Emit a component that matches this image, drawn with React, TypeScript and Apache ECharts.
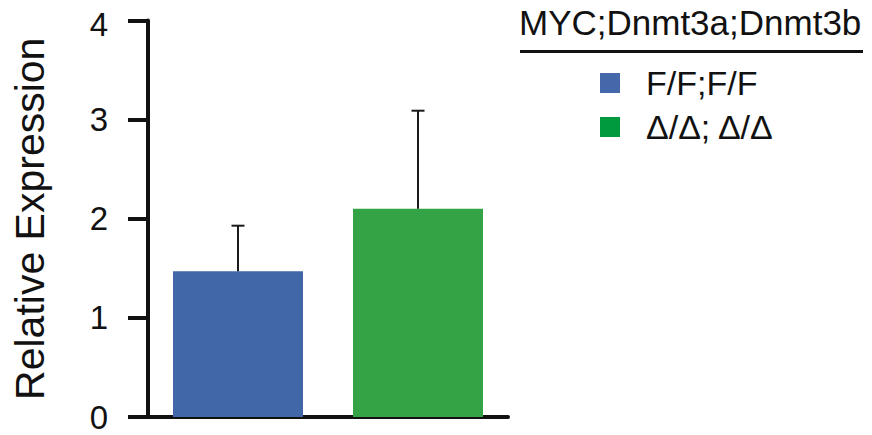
import React, { useEffect, useRef } from "react";
import * as echarts from "echarts";

const categories = ["F/F;F/F", "Δ/Δ; Δ/Δ"];
const seriesNames = ["F/F;F/F", "Δ/Δ; Δ/Δ"];
const means = [1.47, 2.1];
const errorTops = [1.93, 3.09];
const yTicks = [0, 1, 2, 3, 4];
const legendTitle = "MYC;Dnmt3a;Dnmt3b";
const yAxisTitle = "Relative Expression";

const barColors = ["#4267A8", "#33A346"];
const legendColors = ["#4468A9", "#009A3E"];
const FONT = "'Liberation Sans', Arial, Helvetica, sans-serif";

export default function App() {
  const ref = useRef<HTMLDivElement>(null);
  useEffect(() => {
    if (!ref.current) return;
    const chart = echarts.init(ref.current, undefined, { renderer: "svg" });
    const errData = means.map((m, i) => [i, m, errorTops[i]]);
    const topTick = yTicks[yTicks.length - 1];
    chart.setOption({
      animation: false,
      backgroundColor: "#ffffff",
      textStyle: { fontFamily: FONT },
      grid: { left: 148, right: 364, top: 16, bottom: 18, containLabel: false },
      legend: {
        orient: "vertical",
        left: 595,
        top: 59,
        itemWidth: 20,
        itemHeight: 20,
        itemGap: 6,
        icon: "rect",
        selectedMode: false,
        data: seriesNames.map((n, i) => ({ name: n, itemStyle: { color: legendColors[i] } })),
        textStyle: {
          fontFamily: FONT,
          fontSize: 34,
          color: "#111",
          lineHeight: 38,
          padding: [0, 0, 0, 21],
        },
      },
      graphic: [
        {
          type: "text",
          left: 519,
          top: 5,
          style: { text: legendTitle, fontSize: 35, fontFamily: FONT, fill: "#111" },
        },
        {
          type: "line",
          shape: { x1: 520, y1: 51.5, x2: 863, y2: 51.5 },
          style: { stroke: "#111", lineWidth: 3 },
        },
      ],
      xAxis: {
        type: "category",
        data: categories,
        axisLine: { show: true, lineStyle: { color: "#111", width: 4 } },
        axisTick: { show: false },
        axisLabel: { show: false },
        splitLine: { show: false },
      },
      yAxis: {
        type: "value",
        min: yTicks[0],
        max: topTick,
        interval: 1,
        name: yAxisTitle,
        nameLocation: "middle",
        nameRotate: 90,
        nameGap: 98,
        nameTextStyle: { fontFamily: FONT, fontSize: 41, color: "#111" },
        axisLine: { show: true, lineStyle: { color: "#111", width: 4 } },
        axisTick: { show: true, length: 20, lineStyle: { color: "#111", width: 4 } },
        axisLabel: {
          fontFamily: FONT,
          fontSize: 33,
          color: "#111",
          margin: 40,
          lineHeight: 26,
          formatter: (v: number) => (v === topTick ? `{top|${v}}` : `${v}`),
          rich: {
            top: { fontFamily: FONT, fontSize: 33, color: "#111", lineHeight: 26, padding: [8, 0, 0, 0] },
          },
        },
        splitLine: { show: false },
      },
      series: [
        {
          name: seriesNames[0],
          type: "bar",
          barWidth: 130,
          barGap: "-100%",
          data: [means[0], "-"],
          itemStyle: { color: barColors[0] },
        },
        {
          name: seriesNames[1],
          type: "bar",
          barWidth: 130,
          barGap: "-100%",
          data: ["-", means[1]],
          itemStyle: { color: barColors[1] },
        },
        {
          type: "custom",
          z: 10,
          data: errData,
          renderItem: (params: any, api: any) => {
            const x = api.value(0);
            const lo = api.coord([x, api.value(1)]);
            const hi = api.coord([x, api.value(2)]);
            const half = 6.5;
            const style = { stroke: "#1a1a1a", lineWidth: 2 };
            return {
              type: "group",
              children: [
                { type: "line", shape: { x1: lo[0], y1: lo[1], x2: hi[0], y2: hi[1] }, style },
                { type: "line", shape: { x1: hi[0] - half, y1: hi[1], x2: hi[0] + half, y2: hi[1] }, style },
              ],
            };
          },
        },
      ],
    });
    return () => chart.dispose();
  }, []);
  return (
    <div
      ref={ref}
      style={{ position: "fixed", left: 0, top: 0, width: 872, height: 435 }}
    />
  );
}
